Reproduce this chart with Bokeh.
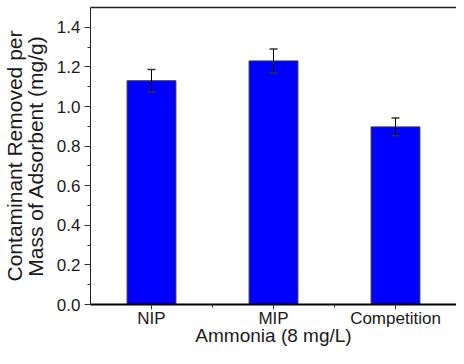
from bokeh.plotting import figure
from bokeh.models import (ColumnDataSource, FixedTicker, NumeralTickFormatter,
                          Whisker, TeeHead, LinearAxis, Range1d)
from bokeh.embed import file_html
from bokeh.resources import INLINE

categories = ["NIP", "MIP", "Competition"]
values = [1.13, 1.23, 0.897]
errors = [0.057, 0.061, 0.045]
y_ticks = [0.0, 0.2, 0.4, 0.6, 0.8, 1.0, 1.2, 1.4]
y_minor = [0.1, 0.3, 0.5, 0.7, 0.9, 1.1, 1.3]
x_title = "Ammonia (8 mg/L)"
y_title = "Contaminant Removed per\nMass of Adsorbent (mg/g)"

xpos = list(range(1, len(categories) + 1))
src = ColumnDataSource(dict(
    x=xpos, top=values,
    upper=[v + e for v, e in zip(values, errors)],
    lower=[v - e for v, e in zip(values, errors)],
))

FONT = "Liberation Sans"
TICK_FS = "17px"
p = figure(width=456, height=348, output_backend="svg", toolbar_location=None,
           x_range=Range1d(0.5, 3.5), y_range=Range1d(0, 1.5),
           min_border_left=80, min_border_right=0, min_border_top=7,
           min_border_bottom=0)
p.outline_line_color = None
p.grid.grid_line_color = None
p.background_fill_color = "white"
p.border_fill_color = "white"

p.vbar(x="x", top="top", width=0.4, bottom=0, source=src,
       fill_color="#0000FF", line_color="#333333", line_width=1)

w = Whisker(source=src, base="x", upper="upper", lower="lower",
            line_color="black", line_width=1, level="overlay",
            upper_head=TeeHead(size=8, line_color="#333333", line_width=1.5),
            lower_head=TeeHead(size=8, line_color="#333333", line_width=1.5))
p.add_layout(w)

# x axis
xa = p.xaxis[0]
xa.ticker = FixedTicker(ticks=xpos, minor_ticks=[1.5, 2.5])
xa.major_label_overrides = {i: c for i, c in zip(xpos, categories)}
xa.axis_label = x_title
xa.axis_line_width = 2
xa.axis_line_color = "black"
xa.major_tick_out = 5
xa.major_tick_in = 0
xa.minor_tick_out = 3
xa.minor_tick_in = 0
xa.major_tick_line_color = "#333333"
xa.minor_tick_line_color = "#333333"
xa.major_label_text_font = FONT
xa.major_label_text_font_size = TICK_FS
xa.major_label_text_color = "#1a1a1a"
xa.major_label_standoff = -1
xa.axis_label_text_font = FONT
xa.axis_label_text_font_size = "19px"
xa.axis_label_text_font_style = "normal"
xa.axis_label_text_color = "#1a1a1a"
xa.axis_label_standoff = -6

# y axis
ya = p.yaxis[0]
ya.ticker = FixedTicker(ticks=y_ticks, minor_ticks=y_minor)
ya.formatter = NumeralTickFormatter(format="0.0")
ya.axis_label = y_title
ya.axis_line_color = "#222222"
ya.axis_line_width = 1
ya.major_tick_out = 6
ya.major_tick_in = 0
ya.minor_tick_out = 3
ya.minor_tick_in = 0
ya.major_tick_line_color = "#333333"
ya.minor_tick_line_color = "#333333"
ya.major_label_text_font = FONT
ya.major_label_text_font_size = TICK_FS
ya.major_label_text_color = "#1a1a1a"
ya.major_label_standoff = 4
ya.axis_label_text_font = FONT
ya.axis_label_text_font_size = "21px"
ya.axis_label_text_font_style = "normal"
ya.axis_label_text_color = "#1a1a1a"
ya.axis_label_text_line_height = 0.9
ya.axis_label_standoff = 7

# top frame line
top = LinearAxis(ticker=FixedTicker(ticks=[]), major_label_text_font_size="0px",
                 axis_line_color="#222222", axis_line_width=1.5,
                 major_tick_line_color=None, minor_tick_line_color=None)
p.add_layout(top, "above")

open("out.html", "w").write(file_html(p, INLINE))
